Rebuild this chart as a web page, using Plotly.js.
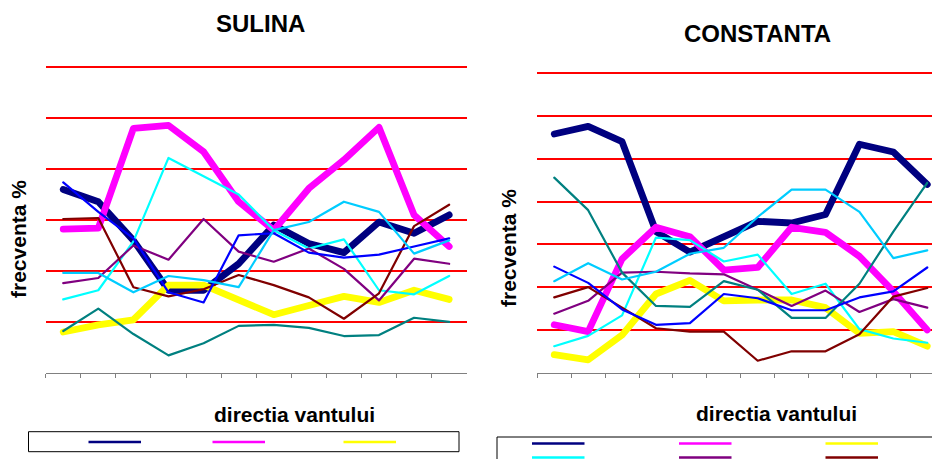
<!DOCTYPE html>
<html>
<head>
<meta charset="utf-8">
<script src="https://cdn.plot.ly/plotly-3.0.1.min.js"></script>
<style>
  html, body { margin: 0; padding: 0; background: #ffffff; }
  #chart { width: 932px; height: 459px; }
  .scatterlayer .js-line { stroke-linejoin: round; stroke-linecap: round; }
</style>
</head>
<body>
<div id="chart"></div>
<script>
// ---------------- DATA ----------------
const categories = ["0°", "30°", "60°", "90°", "120°", "150°", "180°", "210°", "240°", "270°", "300°", "330°"];
const seriesNames = ["seria 1", "seria 2", "seria 3", "seria 4", "seria 5", "seria 6", "seria 7", "seria 8", "seria 9"];

// SULINA (frecventa %)
const sulina1 = [18.0, 16.8, 13.0, 8.1, 8.1, 10.7, 14.5, 12.7, 11.8, 14.8, 13.7, 15.5];
const sulina2 = [14.1, 14.2, 24.0, 24.3, 21.7, 16.8, 14.0, 18.1, 20.9, 24.1, 15.5, 12.4];
const sulina3 = [4.0, 4.7, 5.2, 8.6, 8.6, 7.1, 5.7, 6.6, 7.5, 6.9, 8.1, 7.2];
const sulina4 = [7.2, 8.1, 12.9, 21.1, 19.3, 17.5, 14.0, 12.2, 13.1, 8.1, 7.7, 9.5];
const sulina5 = [8.8, 9.3, 12.5, 11.1, 15.1, 11.9, 10.9, 12.2, 10.2, 7.1, 11.2, 10.7];
const sulina6 = [15.1, 15.2, 8.4, 7.5, 8.2, 9.6, 8.6, 7.4, 5.3, 7.8, 14.4, 16.5];
const sulina7 = [4.1, 6.3, 3.8, 1.7, 2.9, 4.6, 4.7, 4.4, 3.6, 3.7, 5.4, 5.0];
const sulina8 = [18.7, 15.8, 13.2, 7.9, 6.9, 13.5, 13.7, 11.8, 11.3, 11.6, 12.4, 13.2];
const sulina9 = [9.8, 9.8, 7.9, 9.5, 9.1, 8.4, 14.0, 14.8, 16.8, 15.8, 11.7, 13.0];

// CONSTANTA (frecventa %)
const constanta1 = [27.9, 28.8, 27.0, 16.5, 14.1, 15.9, 17.7, 17.5, 18.5, 26.7, 25.8, 22.0];
const constanta2 = [5.6, 4.8, 13.3, 17.0, 15.9, 12.0, 12.3, 17.0, 16.4, 13.6, 9.5, 5.0];
const constanta3 = [2.1, 1.5, 4.4, 9.2, 10.8, 8.4, 8.5, 8.5, 7.6, 4.6, 4.8, 3.1];
const constanta4 = [3.1, 4.3, 6.7, 15.8, 15.5, 13.0, 13.8, 9.2, 10.4, 5.1, 4.0, 3.5];
const constanta5 = [6.9, 8.4, 11.7, 11.8, 11.6, 11.5, 9.7, 7.8, 9.6, 7.1, 8.6, 7.6];
const constanta6 = [8.8, 10.0, 7.6, 5.2, 4.8, 4.8, 1.4, 2.5, 2.5, 4.5, 8.9, 9.9];
const constanta7 = [22.8, 19.0, 11.7, 7.8, 7.7, 10.7, 9.7, 6.4, 6.4, 10.4, 16.5, 22.2];
const constanta8 = [12.4, 10.5, 7.4, 5.6, 5.8, 9.2, 8.7, 7.3, 7.3, 8.8, 9.5, 12.3];
const constanta9 = [10.7, 12.8, 10.9, 11.8, 13.9, 14.6, 18.2, 21.4, 21.4, 18.8, 13.4, 14.3];

const gridValsSulina = [5, 10, 15, 20, 25, 30];
const gridValsConstanta = [5, 10, 15, 20, 25, 30, 35];

// ---------------- STYLE ----------------
const colors = ["#000080", "#FF00FF", "#FFFF00", "#00FFFF", "#800080", "#800000", "#008080", "#0000FF", "#00CCFF"];
const widths = [6.8, 6.8, 6.8, 2.2, 2.2, 2.2, 2.2, 2.2, 2.2];
const FONT = "Liberation Sans, Arial, Helvetica, sans-serif";
const W = 932, H = 459;
const px = x => x / W;
const py = y => 1 - y / H;

const sulinaSeries = [sulina1, sulina2, sulina3, sulina4, sulina5, sulina6, sulina7, sulina8, sulina9];
const constantaSeries = [constanta1, constanta2, constanta3, constanta4, constanta5, constanta6, constanta7, constanta8, constanta9];

const traces = [];
function addTraces(seriesList, xa, ya, station) {
  seriesList.forEach((vals, i) => {
    traces.push({
      type: "scatter", mode: "lines",
      x: categories, y: vals,
      xaxis: xa, yaxis: ya,
      name: seriesNames[i] + " (" + station + ")",
      line: { color: colors[i], width: widths[i] },
      showlegend: false,
      hoverinfo: "x+y+name"
    });
  });
}
addTraces(sulinaSeries, "x", "y", "SULINA");
addTraces(constantaSeries, "x2", "y2", "CONSTANTA");

// legend boxes (Excel style: key lines only)
const shapes = [];
function legendBox(x0, x1, y0, y1, cols, rowY, colX, len, count) {
  shapes.push({ type: "rect", xref: "paper", yref: "paper",
    x0: px(x0), x1: px(x1), y0: py(y1), y1: py(y0),
    line: { color: "#000000", width: 1 }, fillcolor: "rgba(0,0,0,0)" });
  for (let i = 0; i < count; i++) {
    const r = Math.floor(i / cols), c = i % cols;
    shapes.push({ type: "line", xref: "paper", yref: "paper",
      x0: px(colX[c]), x1: px(colX[c] + len), y0: py(rowY[r]), y1: py(rowY[r]),
      line: { color: colors[i], width: 2.7 } });
  }
}
legendBox(28.5, 459, 431.7, 451.7, 3, [442], [88.5, 212.5, 343.5], 52.5, 3);
legendBox(497, 945, 437, 480, 3, [443.5, 457.5, 471.5], [532, 679, 825.5], 52.5, 9);

const annotations = [
  { text: "<b>SULINA</b>", x: px(260), y: py(23.5), xref: "paper", yref: "paper",
    xanchor: "center", yanchor: "middle", showarrow: false, font: { family: FONT, size: 24, color: "#000" } },
  { text: "<b>CONSTANTA</b>", x: px(757), y: py(33.5), xref: "paper", yref: "paper",
    xanchor: "center", yanchor: "middle", showarrow: false, font: { family: FONT, size: 24, color: "#000" } },
  { text: "<b>frecventa %</b>", x: px(18), y: py(239), xref: "paper", yref: "paper", textangle: -90,
    xanchor: "center", yanchor: "middle", showarrow: false, font: { family: FONT, size: 21, color: "#000" } },
  { text: "<b>frecventa %</b>", x: px(508.5), y: py(247.5), xref: "paper", yref: "paper", textangle: -90,
    xanchor: "center", yanchor: "middle", showarrow: false, font: { family: FONT, size: 21, color: "#000" } },
  { text: "<b>directia vantului</b>", x: px(294), y: py(414), xref: "paper", yref: "paper",
    xanchor: "center", yanchor: "middle", showarrow: false, font: { family: FONT, size: 21, color: "#000" } },
  { text: "<b>directia vantului</b>", x: px(776), y: py(413), xref: "paper", yref: "paper",
    xanchor: "center", yanchor: "middle", showarrow: false, font: { family: FONT, size: 21, color: "#000" } }
];

const xCommon = {
  type: "category", tickson: "boundaries", ticks: "outside", ticklen: 4, tickwidth: 1,
  tickcolor: "#808080", showline: true, linecolor: "#808080", linewidth: 1,
  showticklabels: false, showgrid: false, zeroline: false, fixedrange: true
};
const yCommon = {
  tickmode: "array", showticklabels: false, ticks: "", showgrid: true,
  gridcolor: "#FF0000", gridwidth: 2, zeroline: false, showline: false, fixedrange: true
};

const layout = {
  width: W, height: H,
  margin: { l: 0, r: 0, t: 0, b: 0 },
  paper_bgcolor: "#ffffff", plot_bgcolor: "rgba(0,0,0,0)",
  showlegend: false,
  font: { family: FONT, color: "#000" },
  xaxis: Object.assign({}, xCommon, { domain: [px(45.7), px(466.7)], range: [-0.5, 11.5], anchor: "y" }),
  yaxis: Object.assign({}, yCommon, { domain: [py(372.7), py(66)], range: [0, 30.13], tickvals: gridValsSulina, anchor: "x" }),
  xaxis2: Object.assign({}, xCommon, { domain: [px(537.3), 1], range: [-0.5, 11.14], anchor: "y2" }),
  yaxis2: Object.assign({}, yCommon, { domain: [py(372.7), py(72)], range: [0, 35.15], tickvals: gridValsConstanta, anchor: "x2" }),
  shapes: shapes,
  annotations: annotations
};

Plotly.newPlot("chart", traces, layout, { displayModeBar: false, staticPlot: true });
</script>
</body>
</html>
